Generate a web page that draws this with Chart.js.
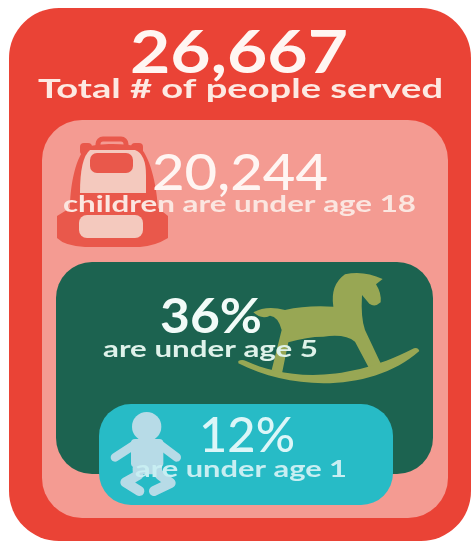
<!DOCTYPE html>
<html>
<head>
<meta charset="utf-8">
<style>
html,body{margin:0;padding:0;background:#fff;overflow:hidden}
canvas{display:block;filter:blur(0.5px)}
</style>
<script src="https://cdn.jsdelivr.net/npm/chart.js@4"></script>
</head>
<body>
<canvas id="infoChart" width="471" height="542"></canvas>
<script>
// data
const groupNames=['Total','Under 18','Under 5','Under 1'];
const groupValues=[26667,20244,36,12];
const bigLabels=['26,667','20,244','36%','12%'];
const captions=['Total # of people served','children are under age 18','are under age 5','are under age 1'];

// layout of the nested boxes, one per group (page pixels)
const W=471,H=542;
const boxes=[
    {left:9,right:471,top:8,bottom:541,radius:50,color:'#ea4336'},
    {left:42,right:448,top:120,bottom:518,radius:40,color:'#f49b92'},
    {left:56,right:433,top:262,bottom:474,radius:36,color:'#1c6350'},
    {left:99,right:393,top:404,bottom:505,radius:32,color:'#27bbc6'}
];
// the source art is stretched sideways, so each text is fitted to a width
const textStyles=[
    {x:239,capX:240.5,big:60,bigY:73,bigW:'700',bigFit:218,cap:27.5,capY:98,capW:'700',capFit:405,color:'#fff6f2',capColor:'#fde9e2'},
    {x:240,capX:239.5,big:51,bigY:190,bigW:'500',bigFit:176,cap:22.5,capY:212,capW:'700',capFit:353,color:'#fff5f2',capColor:'#fbe6e0'},
    {x:211,capX:210.5,big:48,bigY:333,bigW:'700',bigFit:102,cap:22.5,capY:357,capW:'700',capFit:215,color:'#f2fbf8',capColor:'#dff2ea'},
    {x:247,capX:241,big:48,bigY:452,bigW:'500',bigFit:96,cap:22.5,capY:477,capW:'700',capFit:212,color:'#dcf6f8',capColor:'#c8eef2'}
];

// hidden axes put each value's bar on its box
const scales={};
boxes.forEach((b,i)=>{
    const unit=groupValues[i]/(b.bottom-b.top);
    const centre=(b.left+b.right)/2;
    scales['x'+i]={type:'linear',axis:'x',display:false,offset:false,bounds:'data',min:-centre,max:W-centre};
    scales['y'+i]={type:'linear',axis:'y',display:false,bounds:'data',min:-(H-b.bottom)*unit,max:groupValues[i]+b.top*unit};
});

function roundBox(ctx,x,y,w,h,r){
    ctx.beginPath();
    ctx.roundRect(x,y,w,h,r);
    ctx.fill();
}

function fitText(ctx,str,x,y,font,width){
    ctx.font=font;
    const sx=width/ctx.measureText(str).width;
    ctx.save();
    ctx.translate(x,y);
    ctx.scale(sx,1);
    ctx.fillText(str,0,0);
    ctx.restore();
}

function drawBackpack(ctx){
    ctx.save();
    ctx.fillStyle='#e9584b';
    ctx.strokeStyle='#e9584b';
    // handle
    ctx.lineWidth=5;
    ctx.beginPath();
    ctx.roundRect(98,139,28,14,5);
    ctx.stroke();
    // shoulders
    roundBox(ctx,80,143,12,12,4);
    roundBox(ctx,131,143,12,12,4);
    // body
    ctx.beginPath();
    ctx.moveTo(86,147);
    ctx.bezierCurveTo(100,143,125,143,140,147);
    ctx.bezierCurveTo(152,160,157,190,158,208);
    ctx.lineTo(168,216);
    ctx.lineTo(168,238);
    ctx.quadraticCurveTo(155,246,140,247);
    ctx.lineTo(85,247);
    ctx.quadraticCurveTo(65,246,57,238);
    ctx.lineTo(57,216);
    ctx.lineTo(70,208);
    ctx.bezierCurveTo(70,190,74,160,86,147);
    ctx.closePath();
    ctx.fill();
    // light upper panel
    ctx.fillStyle='#f4c9be';
    ctx.beginPath();
    ctx.moveTo(90,150);
    ctx.lineTo(135,150);
    ctx.quadraticCurveTo(146,154,146,175);
    ctx.lineTo(146,193);
    ctx.lineTo(80,193);
    ctx.quadraticCurveTo(80,158,90,150);
    ctx.closePath();
    ctx.fill();
    // red inner pocket
    ctx.fillStyle='#e9584b';
    roundBox(ctx,90,153,43,20,7);
    // lower pocket
    ctx.fillStyle='#f4c9be';
    roundBox(ctx,79,215,64,23,8);
    ctx.restore();
}

function drawHorse(ctx){
    // outline traced on a 3x crop, origin at 40,255
    ctx.save();
    ctx.translate(40,255);
    ctx.scale(1/3,1/3);
    ctx.fillStyle='#98a754';
    ctx.beginPath();
    ctx.moveTo(640,172);
    ctx.quadraticCurveTo(680,150,735,165);
    ctx.quadraticCurveTo(800,150,880,155);
    ctx.quadraticCurveTo(870,90,915,58);
    ctx.quadraticCurveTo(970,45,1028,72);
    ctx.lineTo(1008,88);
    ctx.quadraticCurveTo(1025,115,1022,142);
    ctx.quadraticCurveTo(1005,158,988,146);
    ctx.lineTo(966,120);
    ctx.quadraticCurveTo(962,190,975,225);
    ctx.lineTo(1022,325);
    ctx.lineTo(990,345);
    ctx.lineTo(945,260);
    ctx.quadraticCurveTo(915,235,850,245);
    ctx.quadraticCurveTo(800,245,745,262);
    ctx.lineTo(725,360);
    ctx.lineTo(695,345);
    ctx.lineTo(725,225);
    ctx.quadraticCurveTo(715,185,690,182);
    ctx.quadraticCurveTo(665,195,640,172);
    ctx.closePath();
    ctx.fill();
    // rocker, thicker in the middle
    ctx.beginPath();
    ctx.moveTo(595,318);
    ctx.quadraticCurveTo(606,312,618,318);
    ctx.bezierCurveTo(720,365,900,395,1122,280);
    ctx.quadraticCurveTo(1134,276,1138,288);
    ctx.bezierCurveTo(1000,410,760,410,595,325);
    ctx.closePath();
    ctx.fill();
    ctx.restore();
}

function drawBaby(ctx){
    // traced on a 3x crop, origin at 0,395
    ctx.save();
    ctx.translate(0,395);
    ctx.scale(1/3,1/3);
    ctx.fillStyle='#b7dbe7';
    ctx.strokeStyle='#b7dbe7';
    ctx.lineCap='round';
    ctx.lineJoin='round';
    ctx.beginPath();
    ctx.arc(440,95,44,0,Math.PI*2);
    ctx.fill();
    ctx.lineWidth=26;
    ctx.beginPath();
    ctx.moveTo(405,148);
    ctx.lineTo(345,187);
    ctx.moveTo(478,148);
    ctx.lineTo(530,187);
    ctx.stroke();
    roundBox(ctx,393,132,97,85,12);
    ctx.lineWidth=30;
    ctx.beginPath();
    ctx.moveTo(415,240);
    ctx.lineTo(376,262);
    ctx.lineTo(418,288);
    ctx.moveTo(480,240);
    ctx.lineTo(512,264);
    ctx.lineTo(462,288);
    ctx.stroke();
    roundBox(ctx,398,210,88,28,10);
    ctx.restore();
}

// icons and texts
const artPlugin={
    id:'art',
    afterDatasetsDraw(chart){
        const ctx=chart.ctx;
        drawBackpack(ctx);
        drawHorse(ctx);
        drawBaby(ctx);
        ctx.save();
        ctx.textAlign='center';
        ctx.textBaseline='alphabetic';
        textStyles.forEach((t,i)=>{
            ctx.fillStyle=t.color;
            fitText(ctx,bigLabels[i],t.x,t.bigY,t.bigW+' '+t.big+'px Lato',t.bigFit);
            ctx.fillStyle=t.capColor;
            fitText(ctx,captions[i],t.capX,t.capY,t.capW+' '+t.cap+'px Lato',t.capFit);
        });
        ctx.restore();
    }
};

const infoChart=new Chart(document.getElementById('infoChart'),{
    type:'bar',
    data:{
        datasets:groupValues.map((v,i)=>({
            label:groupNames[i],
            data:[{x:0,y:v}],
            xAxisID:'x'+i,
            yAxisID:'y'+i,
            order:boxes.length-i,
            grouped:false,
            barThickness:boxes[i].right-boxes[i].left,
            backgroundColor:boxes[i].color,
            borderRadius:boxes[i].radius,
            borderSkipped:false,
            inflateAmount:0
        }))
    },
    options:{
        responsive:false,
        animation:false,
        layout:{padding:0},
        scales:scales,
        plugins:{legend:{display:false},tooltip:{enabled:false}}
    },
    plugins:[artPlugin]
});
</script>
</body>
</html>
